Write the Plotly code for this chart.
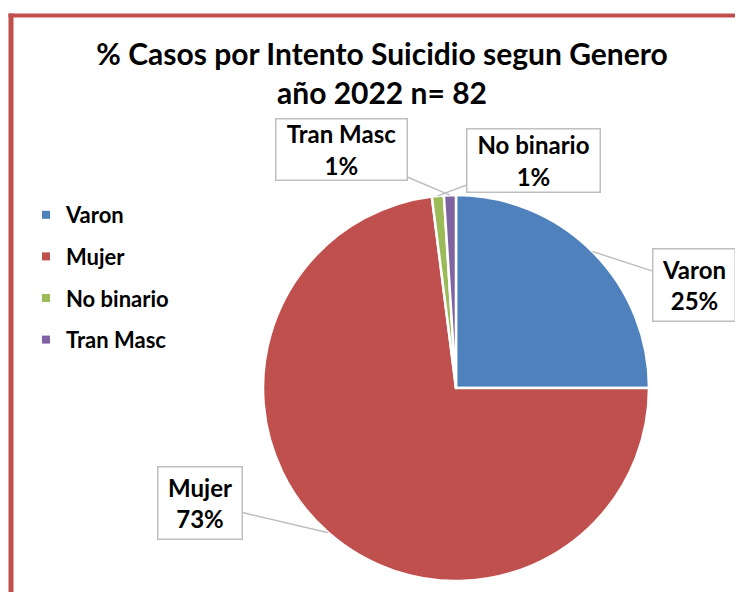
import math
import plotly.graph_objects as go

# ---- data ----
categories = ["Varon", "Mujer", "No binario", "Tran Masc"]
percent_values = [25, 73, 1, 1]
colors = ["#4F81BD", "#C0504D", "#9BBB59", "#8064A2"]
title_text = "% Casos por Intento Suicidio segun Genero<br>año 2022 n= 82"

# page has an 8px body margin; figure fills the rest of the 743x592 window
PAGE_OFF = 8
W, H = 743 - PAGE_OFF, 592 - PAGE_OFF
FONT = "Lato"


def fx(px):  # screen pixel -> paper x
    return (px - PAGE_OFF) / W


def fy(py):  # screen pixel -> paper y
    return 1 - (py - PAGE_OFF) / H


# pie placement (screen pixels): centre and radius
cx, cy, radius = 456, 388, 193
dom_x = [fx(cx - radius), fx(cx + radius)]
dom_y = [fy(cy + radius), fy(cy - radius)]

fig = go.Figure()
fig.add_trace(go.Pie(
    labels=categories,
    values=percent_values,
    marker=dict(colors=colors, line=dict(color="white", width=2.5)),
    sort=False,
    direction="clockwise",
    rotation=0,
    textinfo="none",
    hoverinfo="label+percent",
    showlegend=False,
    domain=dict(x=dom_x, y=dom_y),
))

# legend entries (one per category)
for cat, col in zip(categories, colors):
    fig.add_trace(go.Scatter(
        x=[None], y=[None], mode="markers", name=f"<b>{cat}</b>",
        marker=dict(symbol="square", size=8, color=col),
        legendgroup=cat, showlegend=True,
    ))

# callout label box centres (screen pixels) and sizes
label_centres = {
    "Varon": (694, 284.5),
    "Mujer": (200, 502.5),
    "No binario": (533.5, 160),
    "Tran Masc": (341.5, 149),
}
label_sizes = {
    "Varon": (77, 67),
    "Mujer": (79, 67),
    "No binario": (128, 58),
    "Tran Masc": (126, 56),
}

total = sum(percent_values)
cum = 0
annotations = []
for cat, v in zip(categories, percent_values):
    mid = (cum + v / 2) / total
    cum += v
    theta = 2 * math.pi * mid
    px = cx + radius * math.sin(theta)
    py = cy - radius * math.cos(theta)
    bx, by = label_centres[cat]
    w, h = label_sizes[cat]
    annotations.append(dict(
        x=fx(px), y=fy(py), xref="paper", yref="paper",
        ax=bx - px, ay=by - py, showarrow=True, arrowhead=0, arrowwidth=1.5,
        arrowcolor="#BFBFBF",
        text=f"<b>{cat}<br>{round(100 * v / total)}%</b>",
        font=dict(family=FONT, size=24, color="black"),
        bgcolor="white", bordercolor="#BFBFBF", borderwidth=1.5, borderpad=2,
        width=w, height=h, align="center", valign="middle",
    ))

fig.update_layout(
    width=W, height=H,
    margin=dict(l=0, r=0, t=0, b=0),
    paper_bgcolor="white", plot_bgcolor="white",
    xaxis=dict(visible=False), yaxis=dict(visible=False),
    title=dict(
        text=f"<b>{title_text}</b>",
        x=fx(382), xanchor="center", y=fy(65), yanchor="top",
        font=dict(family=FONT, size=30, color="black"),
    ),
    legend=dict(
        x=fx(26), y=fy(194), xanchor="left", yanchor="top",
        font=dict(family=FONT, size=22, color="black"),
        tracegroupgap=10, itemwidth=30,
        bgcolor="rgba(0,0,0,0)",
    ),
    annotations=annotations,
    shapes=[
        dict(type="line", xref="paper", yref="paper",
             x0=fx(8.5), x1=1, y0=fy(15.5), y1=fy(15.5),
             line=dict(color="#C0504D", width=4)),
        dict(type="line", xref="paper", yref="paper",
             x0=fx(11), x1=fx(11), y0=0, y1=fy(13.5),
             line=dict(color="#C0504D", width=5)),
    ],
)

fig.write_html("out.html")
